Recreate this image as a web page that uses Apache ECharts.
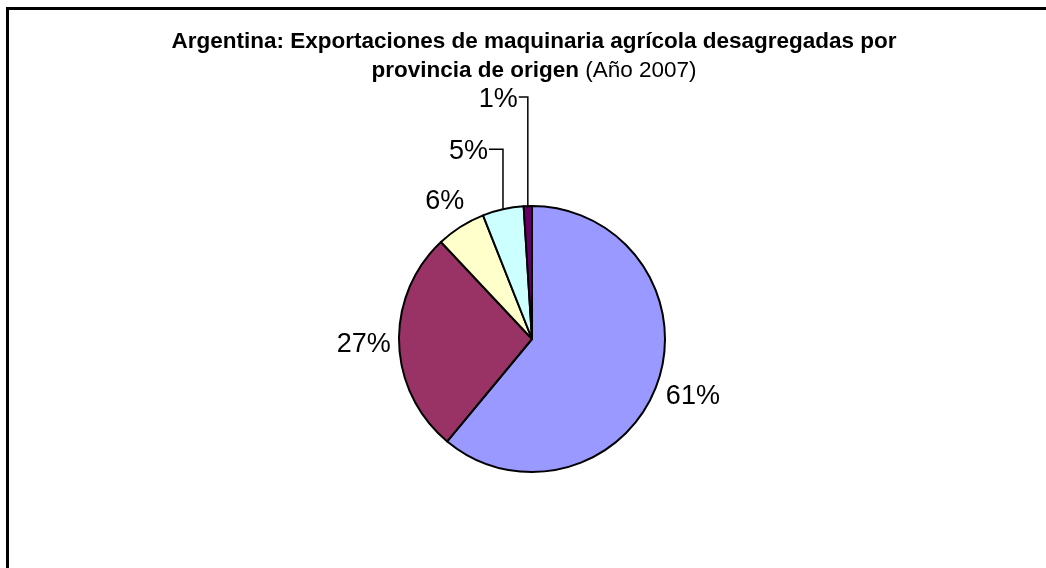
<!DOCTYPE html>
<html>
<head>
<meta charset="utf-8">
<script src="https://cdn.jsdelivr.net/npm/echarts@6/dist/echarts.min.js"></script>
<style>
  html, body { margin: 0; padding: 0; background: #fff; }
  #chart { width: 1046px; height: 568px; }
</style>
</head>
<body>
<div id="chart"></div>
<script>
// Export shares of agricultural machinery by province of origin, 2007 (%)
const categories = ['Provincia 1', 'Provincia 2', 'Provincia 3', 'Provincia 4', 'Provincia 5'];
const shares = [61, 27, 6, 5, 1];
const sliceColors = ['#9999FF', '#993366', '#FFFFCC', '#CCFFFF', '#660066'];

const titleBold1 = 'Argentina: Exportaciones de maquinaria agrícola desagregadas por';
const titleBold2 = 'provincia de origen';
const titlePlain = '(Año 2007)';

// pie geometry
const CX = 532, CY = 339, R = 133;
const LABEL_GAP = 8;
// elbow leader lines for the two thin slices: rise above the rim, then a short run left
const elbows = { 3: { rise: 60, run: 14 }, 4: { rise: 109, run: 9 } };

const total = shares.reduce((s, v) => s + v, 0);
let acc = 0;
const midAngles = shares.map(v => {
  const a = (acc + v / 2) / total * Math.PI * 2; // clockwise from 12 o'clock
  acc += v;
  return a;
});

const FONT = 'Liberation Sans, Arial, sans-serif';
const chart = echarts.init(document.getElementById('chart'), null, { renderer: 'canvas' });

const option = {
  animation: false,
  backgroundColor: '#ffffff',
  graphic: [
    {
      type: 'rect',
      silent: true,
      shape: { x: 7.5, y: 8.5, width: 1200, height: 800 },
      style: { fill: 'none', stroke: '#000', lineWidth: 3 }
    },
    {
      type: 'text',
      silent: true,
      x: 534,
      y: 27,
      style: {
        text: '{b|' + titleBold1 + '}\n{b|' + titleBold2 + '}{n| ' + titlePlain + '}',
        align: 'center',
        verticalAlign: 'top',
        rich: {
          b: { fontFamily: FONT, fontWeight: 'bold', fontSize: 22.5, lineHeight: 29, fill: '#000' },
          n: { fontFamily: FONT, fontWeight: 'normal', fontSize: 22.5, lineHeight: 29, fill: '#000' }
        }
      }
    }
  ],
  series: [{
    type: 'pie',
    center: [CX, CY],
    radius: R,
    startAngle: 90,
    clockwise: true,
    avoidLabelOverlap: false,
    silent: true,
    emphasis: { disabled: true },
    itemStyle: { borderColor: '#000', borderWidth: 2 },
    label: {
      show: true,
      position: 'outside',
      formatter: '{c}%',
      fontFamily: FONT,
      fontSize: 27,
      color: '#000'
    },
    labelLine: { show: false, length: 0, length2: 0, lineStyle: { color: '#000', width: 1.5 } },
    labelLayout: function (params) {
      const i = params.dataIndex;
      const a = midAngles[i];
      const ux = Math.sin(a), uy = -Math.cos(a);
      const ax = CX + R * ux, ay = CY + R * uy;
      const e = elbows[i];
      if (e) {
        const ly = ay - e.rise;
        const lx = ax - e.run;
        return {
          x: lx - 1, y: ly + 2, align: 'right', verticalAlign: 'middle',
          labelLinePoints: [[ax, ay], [ax, ly], [lx, ly]]
        };
      }
      const w = params.labelRect.width, h = params.labelRect.height;
      const off = LABEL_GAP + Math.abs(ux) * w / 2 + Math.abs(uy) * h / 2;
      return {
        x: CX + ux * (R + off), y: CY + uy * (R + off),
        align: 'center', verticalAlign: 'middle'
      };
    },
    data: shares.map((v, i) => ({
      name: categories[i],
      value: v,
      itemStyle: { color: sliceColors[i] },
      labelLine: { show: !!elbows[i] }
    }))
  }]
};

chart.setOption(option);
</script>
</body>
</html>
